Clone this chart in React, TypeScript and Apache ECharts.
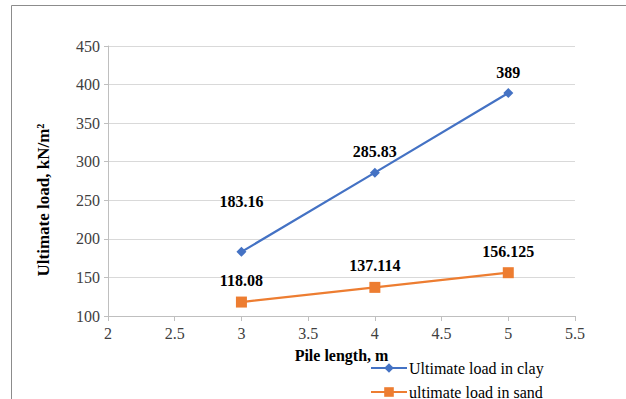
import React, { useEffect, useRef } from "react";
import * as echarts from "echarts";

const pileLength = [3, 4, 5];
const clayLoad = [183.16, 285.83, 389];
const sandLoad = [118.08, 137.114, 156.125];
const clayName = "Ultimate load in clay";
const sandName = "ultimate load in sand";
const xTitle = "Pile length, m";
const yTitle = "Ultimate load, kN/m²";

const FONT = "'Liberation Serif', 'Times New Roman', serif";

export default function App() {
  const ref = useRef<HTMLDivElement>(null);
  useEffect(() => {
    if (!ref.current) return;
    const chart = echarts.init(ref.current, null, { renderer: "svg" });
    const labelBase = {
      show: true,
      position: "top" as const,
      distance: 8,
      fontFamily: FONT,
      fontSize: 16,
      fontWeight: "bold" as const,
      color: "#000",
    };
    const clayData = pileLength.map((x, i) => {
      const item: any = { value: [x, clayLoad[i]] };
      if (i === 0) item.label = { offset: [0, -29] };
      return item;
    });
    const sandData = pileLength.map((x, i) => ({ value: [x, sandLoad[i]] }));
    const legendBase = {
      orient: "horizontal",
      left: 370,
      itemWidth: 36,
      itemHeight: 12,
      padding: 0,
      textStyle: { fontFamily: FONT, fontSize: 16, color: "#000", padding: [0, 0, 0, -3] },
    };
    chart.setOption({
      animation: false,
      backgroundColor: "#fff",
      textStyle: { fontFamily: FONT },
      graphic: [
        {
          type: "rect",
          shape: { x: 11.5, y: 5.5, width: 700, height: 500 },
          style: { fill: "none", stroke: "#8c8c8c", lineWidth: 1 },
          silent: true,
        },
        {
          type: "text",
          x: 43,
          y: 200,
          rotation: Math.PI / 2,
          style: {
            text: yTitle,
            fontFamily: FONT,
            fontSize: 17,
            fontWeight: "bold",
            fill: "#000",
            align: "center",
            verticalAlign: "middle",
          },
          silent: true,
        },
      ],
      grid: { left: 108, right: 51, top: 46, bottom: 83, containLabel: false },
      xAxis: {
        type: "value",
        min: 2,
        max: 5.5,
        interval: 0.5,
        name: xTitle,
        nameLocation: "middle",
        nameGap: 31,
        nameTextStyle: { fontFamily: FONT, fontSize: 16, fontWeight: "bold", color: "#000" },
        axisLine: { show: true, lineStyle: { color: "#bfbfbf", width: 1 } },
        axisTick: { show: true, length: 5, lineStyle: { color: "#bfbfbf" } },
        splitLine: { show: false },
        axisLabel: { fontFamily: FONT, fontSize: 16, color: "#404040", margin: 9 },
      },
      yAxis: {
        type: "value",
        min: 100,
        max: 450,
        interval: 50,
        axisLine: { show: true, lineStyle: { color: "#bfbfbf", width: 1 } },
        axisTick: { show: true, length: 4, lineStyle: { color: "#bfbfbf" } },
        splitLine: { show: true, lineStyle: { color: "#d9d9d9", width: 1 } },
        axisLabel: { fontFamily: FONT, fontSize: 16, color: "#404040", margin: 8 },
      },
      legend: [
        { ...legendBase, top: 360, data: [clayName] },
        { ...legendBase, top: 384, data: [sandName] },
      ],
      series: [
        {
          name: clayName,
          type: "line",
          data: clayData,
          symbol: "diamond",
          symbolSize: 10,
          lineStyle: { color: "#4472C4", width: 2.25 },
          itemStyle: { color: "#4472C4" },
          label: labelBase,
        },
        {
          name: sandName,
          type: "line",
          data: sandData,
          symbol: "rect",
          symbolSize: 11,
          lineStyle: { color: "#ED7D31", width: 2.25 },
          itemStyle: { color: "#ED7D31" },
          label: labelBase,
        },
      ],
    });
    return () => chart.dispose();
  }, []);
  return (
    <div
      ref={ref}
      style={{ position: "fixed", left: 0, top: 0, width: 626, height: 399, background: "#fff" }}
    />
  );
}
